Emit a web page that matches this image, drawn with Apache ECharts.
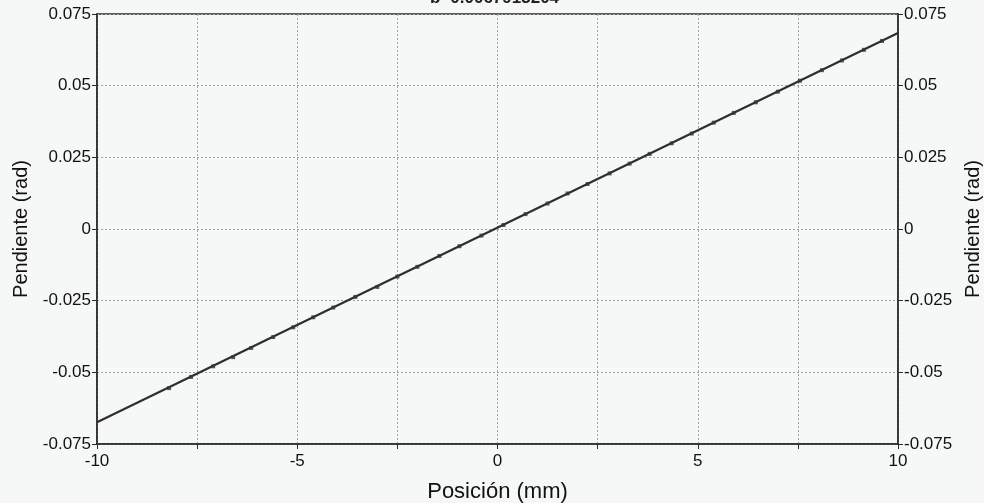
<!DOCTYPE html>
<html>
<head>
<meta charset="utf-8">
<script src="https://cdn.jsdelivr.net/npm/echarts@6/dist/echarts.min.js"></script>
<style>
  html, body { margin: 0; padding: 0; background: #f6f7f7; }
  #chart { width: 984px; height: 503px; }
</style>
</head>
<body>
<div id="chart"></div>
<script>
// Measured slope at each position along the specimen
const posicion = [-8.2, -7.65, -7.1, -6.6, -6.15, -5.6, -5.1, -4.6, -4.1, -3.55, -3.0, -2.5,
  -2.0, -1.45, -0.95, -0.4, 0.15, 0.7, 1.25, 1.75, 2.25, 2.8, 3.3, 3.8, 4.35, 4.85,
  5.4, 5.9, 6.45, 7.0, 7.55, 8.1, 8.6, 9.15, 9.6];
const pendiente = [-0.0555, -0.0516, -0.0479, -0.0447, -0.0415, -0.0377, -0.0343, -0.0308,
  -0.0274, -0.0237, -0.0202, -0.0166, -0.0132, -0.0094, -0.0060, -0.0023, 0.0014,
  0.0052, 0.0089, 0.0124, 0.0157, 0.0194, 0.0228, 0.0262, 0.0299, 0.0333, 0.0371,
  0.0405, 0.0442, 0.0479, 0.0517, 0.0554, 0.0588, 0.0625, 0.0656];

// Least-squares line, drawn end to end across the axis range
const ajusteX = [-10, 10];
const ajusteY = [-0.0674, 0.0684];
const tituloAjuste = 'b=0.0067913204';

const yTicks = ['-0.075', '-0.05', '-0.025', '0', '0.025', '0.05', '0.075'];

const font = '"Liberation Sans", Arial, sans-serif';
const axisColor = '#2a2a2a';
const textColor = '#111111';

function yLabel(v) {
  const s = Number(v.toFixed(3)).toString();
  return yTicks.indexOf(s) >= 0 ? s : '';
}

function yAxis(position) {
  return {
    type: 'value',
    position: position,
    min: -0.075, max: 0.075, interval: 0.025,
    name: 'Pendiente (rad)',
    nameLocation: 'middle',
    nameGap: position === 'left' ? 64 : 65,
    nameRotate: 90,
    nameTextStyle: { fontFamily: font, fontSize: 20, color: textColor },
    axisLine: { show: true, onZero: false, lineStyle: { color: axisColor, width: 1.5 } },
    axisTick: { show: true, length: 5, lineStyle: { color: axisColor } },
    axisLabel: { formatter: yLabel, fontFamily: font, fontSize: 17, color: textColor, margin: 6 },
    splitLine: { show: position === 'left', lineStyle: { color: '#a0a0a0', type: [2, 2], width: 1 } }
  };
}

const chart = echarts.init(document.getElementById('chart'));
chart.setOption({
  backgroundColor: '#f6f7f7',
  animation: false,
  title: {
    text: tituloAjuste,
    left: 425, top: -15,
    textStyle: { fontFamily: font, fontSize: 17, fontWeight: 'bold', color: '#222' }
  },
  grid: {
    left: 97, right: 86, top: 14, bottom: 59,
    outerBoundsMode: 'none',
    containLabel: false,
    show: true, borderColor: axisColor, borderWidth: 1.5, backgroundColor: 'transparent'
  },
  xAxis: {
    type: 'value',
    min: -10, max: 10, interval: 2.5,
    name: 'Posición (mm)',
    nameLocation: 'middle',
    nameGap: 37,
    nameTextStyle: { fontFamily: font, fontSize: 22, color: textColor },
    axisLine: { show: true, onZero: false, lineStyle: { color: axisColor, width: 1.5 } },
    axisTick: { show: true, length: 5, lineStyle: { color: axisColor } },
    axisLabel: {
      formatter: v => (Math.abs(v % 5) < 1e-9 ? String(v) : ''),
      fontFamily: font, fontSize: 17, color: textColor, margin: 9
    },
    splitLine: { show: true, lineStyle: { color: '#a0a0a0', type: [2, 2], width: 1 } }
  },
  yAxis: [yAxis('left'), yAxis('right')],
  series: [
    {
      type: 'line',
      data: ajusteX.map((x, i) => [x, ajusteY[i]]),
      symbol: 'none',
      lineStyle: { color: '#2e2e2e', width: 2.2 },
      z: 3
    },
    {
      type: 'scatter',
      data: posicion.map((x, i) => [x, pendiente[i]]),
      symbol: 'rect',
      symbolSize: 4,
      itemStyle: { color: '#333' },
      z: 4
    }
  ]
});
</script>
</body>
</html>
